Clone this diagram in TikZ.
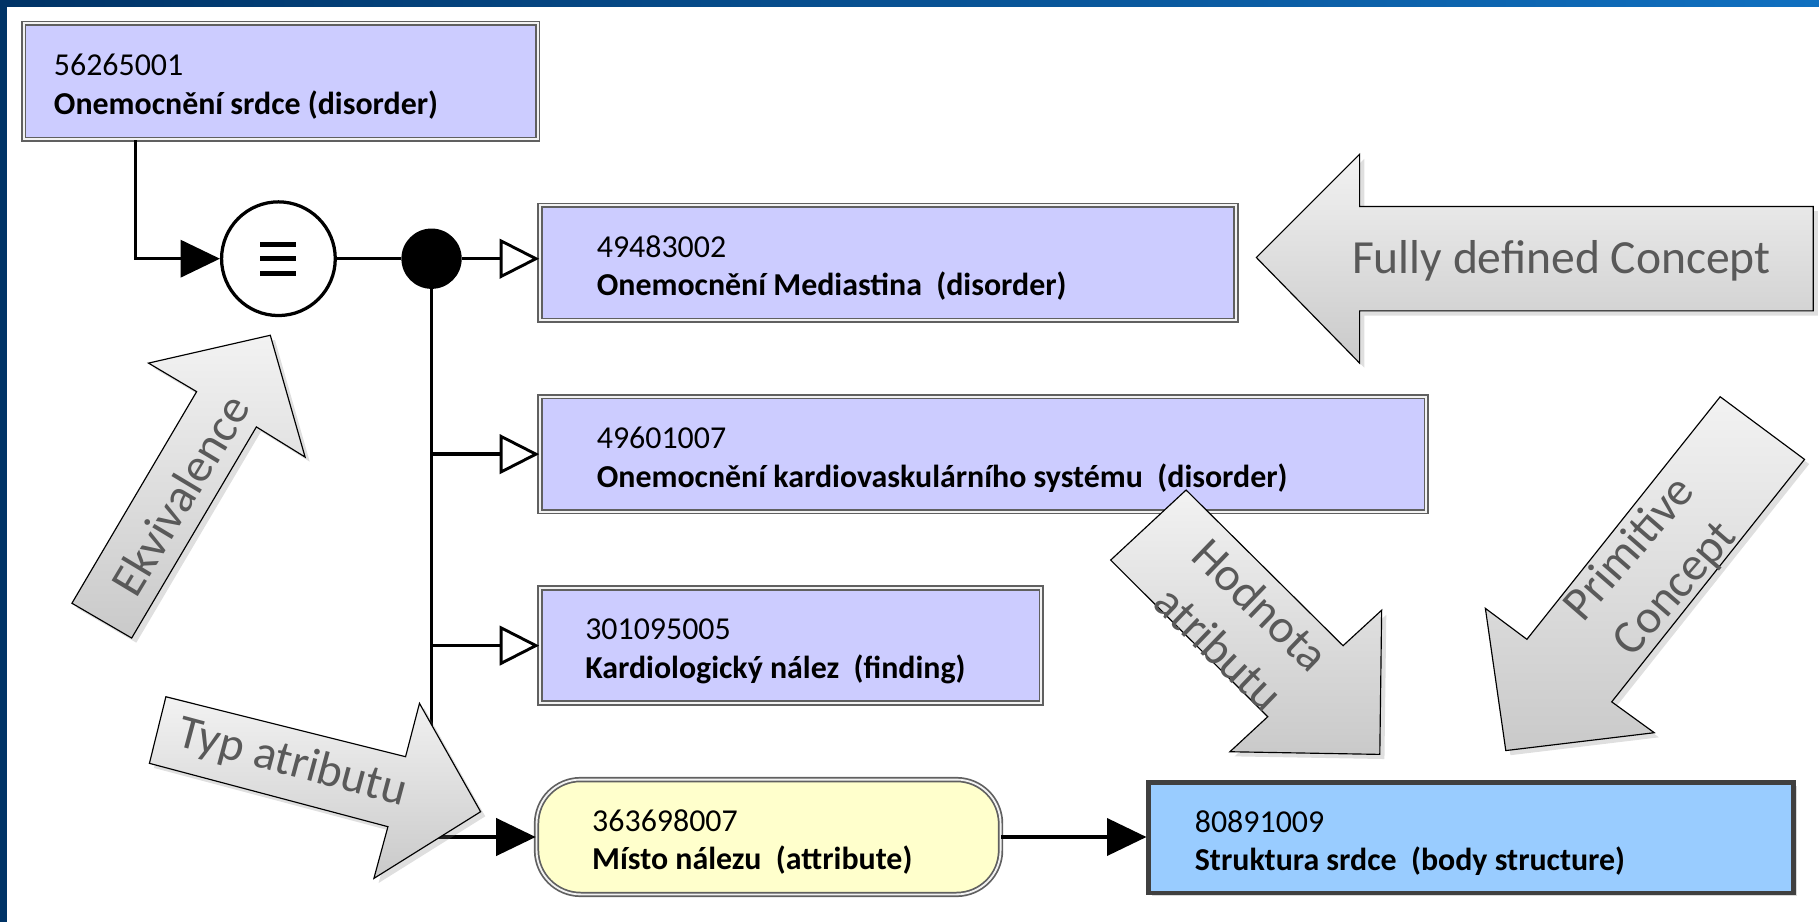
\documentclass[tikz,border=0pt]{standalone}
\usepackage{fontspec}
\setmainfont{Carlito}
\usetikzlibrary{arrows.meta,shadows,calc}
\definecolor{lavend}{HTML}{CCCCFF}
\definecolor{attrib}{HTML}{FFFFCC}
\definecolor{bodyst}{HTML}{99CCFF}
\definecolor{navy}{HTML}{003366}
\definecolor{barblue}{HTML}{1070C0}
\definecolor{hintgray}{HTML}{595959}
\newcommand{\ctlabel}[2]{\spaceskip=0pt\xspaceskip=0pt\rule{0pt}{28pt}#1\\\textbf{#2}}

\tikzset{
  concept/.style={draw=gray!75!black, double=gray!10, double distance=1.6pt, line width=1.5pt,
    fill=lavend, align=left, inner ysep=0pt, minimum height=99pt,
    font=\fontsize{27.5}{33}\selectfont},
  attr/.style={concept, fill=attrib, rounded corners=38pt},
  bodybox/.style={draw=black!75, line width=3.5pt, fill=bodyst, align=left, inner ysep=0pt,
    minimum height=95pt, font=\fontsize{27.5}{33}\selectfont,
    drop shadow={shadow xshift=3pt, shadow yshift=-3pt, opacity=.3}},
  link/.style={line width=3pt},
  rel/.style={link, -{Triangle[length=34pt, width=32pt]}},
  isa/.style={link, -{Triangle[open, length=34pt, width=34pt, line width=2.5pt]}},
  hint/.style={draw=black, line width=1pt, top color=gray!10, bottom color=gray!42,
    drop shadow={shadow xshift=4pt, shadow yshift=-4pt, opacity=.25}},
  hinttext/.style={text=hintgray, align=center, font=\fontsize{41}{52}\selectfont}
}

\begin{document}
\begin{tikzpicture}[x=1pt,y=-1pt]
  \useasboundingbox (0,0) rectangle (1568,795);
  \fill[navy] (0,0) rectangle (6,795);
  \shade[left color=navy, right color=barblue] (0,0) rectangle (1568,6);

  % concepts
  \node[concept, text width=391pt, inner xsep=26pt, minimum height=100pt] (srdce) at (242,70)
    {\ctlabel{56265001}{Onemocnění srdce (disorder)}};
  \node[concept, text width=502pt, inner xsep=49pt] (mediast) at (765.5,226.5)
    {\ctlabel{49483002}{Onemocnění Mediastina\ \ (disorder)}};
  \node[concept, text width=666pt, inner xsep=49pt] (kardio) at (847.5,391.5)
    {\ctlabel{49601007}{Onemocnění kardiovaskulárního systému\ \ (disorder)}};
  \node[concept, text width=354pt, inner xsep=39pt] (nalez) at (681.5,556.5)
    {\ctlabel{301095005}{Kardiologický nález\ \ (finding)}};
  \node[attr, text width=304pt, inner xsep=48pt] (misto) at (662.5,721.5)
    {\ctlabel{363698007}{Místo nálezu\ \ (attribute)}};
  \node[bodybox, text width=476pt, inner xsep=40pt] (struktura) at (1268,722)
    {\ctlabel{80891009}{Struktura srdce\ \ (body structure)}};

  \node[circle, draw, line width=2.8pt, fill=white, minimum size=98pt,
    path picture={\foreach \dy in {-12.5,0,12.5}
      \draw[line width=4.3pt] ($(path picture bounding box.center)+(-15.5,\dy)$) -- ++(31,0);}]
    (equiv) at (240,223) {};
  \node[circle, fill=black, minimum size=52pt, inner sep=0pt] (dot) at (372,223) {};

  % connectors
  \draw[rel] ($(srdce.south west)+(97,0)$) |- (equiv.west);
  \draw[link] (equiv) -- (dot);
  \draw[isa] (dot) -- (dot -| mediast.west);
  \draw[isa] (dot) |- (kardio.west);
  \draw[isa] (dot) |- (nalez.west);
  \draw[rel] (dot) |- (misto.west);
  \draw[rel] (misto.east) -- (misto.east -| struktura.west);

  % block arrows
  \draw[hint] (1083,222) -- (1172,133) -- (1172,178) -- (1563,178) -- (1563,268)
    -- (1172,268) -- (1172,313) -- cycle;
  \node[hinttext] (fully) at (1346,225) {Fully defined Concept};

  \draw[hint] (62,520) -- (169.5,337.6) -- (128,313) -- (233,289) -- (263,394)
    -- (221,368) -- (113.5,550) -- cycle;
  \node[hinttext, rotate=59] (ekviv) at (155,427) {Ekvivalence};

  \draw[hint] (143,600.6) -- (349.6,652.3) -- (361.6,606.3) -- (414.3,699.7)
    -- (322.3,757.2) -- (334.4,712.6) -- (128.8,658) -- cycle;
  \node[hinttext, rotate=-15] (typ) at (252,658) {Typ atributu};

  \draw[hint] (1022.4,422.4) -- (1157.7,556.6) -- (1191,526) -- (1189.4,650.3)
    -- (1060.2,648) -- (1092.8,617.8) -- (957.4,482.8) -- cycle;
  \node[hinttext, rotate=-44] (hodnota) at (1069,540) {Hodnota\\atributu};

  \draw[hint] (1482.8,342) -- (1555.5,396) -- (1389.3,605) -- (1426,631.6)
    -- (1298,647) -- (1280.4,524.4) -- (1316.2,551.1) -- cycle;
  \node[hinttext, rotate=49] (primitive) at (1425,491) {Primitive\\Concept};
\end{tikzpicture}
\end{document}
